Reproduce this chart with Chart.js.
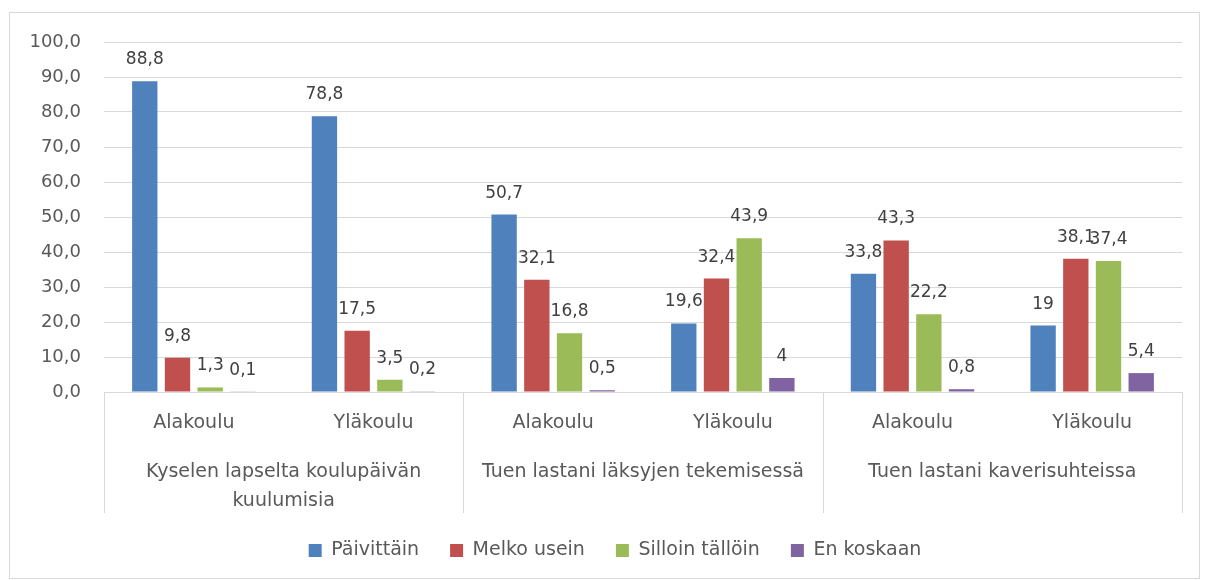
<!DOCTYPE html>
<html>
<head>
<meta charset="utf-8">
<script src="https://cdn.jsdelivr.net/npm/chart.js@4/dist/chart.umd.min.js"></script>
<style>
  html, body { margin: 0; padding: 0; background: #ffffff; }
  #wrap { width: 1209px; height: 580px; position: relative; }
</style>
</head>
<body>
<div id="wrap"><canvas id="c" width="1209" height="580"></canvas></div>
<script>
// ---- data ----
const categories = ["Alakoulu", "Yläkoulu", "Alakoulu", "Yläkoulu", "Alakoulu", "Yläkoulu"];
const groupLabels = [["Kyselen lapselta koulupäivän", "kuulumisia"], ["Tuen lastani läksyjen tekemisessä"], ["Tuen lastani kaverisuhteissa"]];
const seriesNames = ["Päivittäin", "Melko usein", "Silloin tällöin", "En koskaan"];
const paivittain = [88.8, 78.8, 50.7, 19.6, 33.8, 19];
const melkoUsein = [9.8, 17.5, 32.1, 32.4, 43.3, 38.1];
const silloinTalloin = [1.3, 3.5, 16.8, 43.9, 22.2, 37.4];
const enKoskaan = [0.1, 0.2, 0.5, 4, 0.8, 5.4];
const yTicks = [0, 10, 20, 30, 40, 50, 60, 70, 80, 90, 100];

const colors = ["#4f81bd", "#c0504d", "#9bbb59", "#8064a2"];
const FONT = "'DejaVu Sans', sans-serif";
const fmt = v => String(v).replace('.', ',');

const borderPlugin = {
  id: 'outerBorder',
  beforeDraw(chart) {
    const ctx = chart.ctx;
    ctx.save();
    ctx.fillStyle = '#ffffff';
    ctx.fillRect(0, 0, chart.width, chart.height);
    ctx.strokeStyle = '#d9d9d9';
    ctx.lineWidth = 1;
    ctx.strokeRect(9.5, 12.5, 1190, 566);
    ctx.restore();
  }
};

// centre the legend under the whole chart frame as in the reference
const legendShift = {
  id: 'legendShift',
  afterLayout(chart) {
    if (chart.legend) { chart.legend.left += 14; chart.legend.right += 14; }
  }
};

const groupPlugin = {
  id: 'groupAxis',
  afterDraw(chart) {
    const ctx = chart.ctx;
    const xs = chart.scales.x;
    const n = categories.length;
    const cw = (xs.right - xs.left) / n;
    const top = xs.top;
    ctx.save();
    ctx.strokeStyle = '#d9d9d9';
    ctx.lineWidth = 1;
    for (let g = 0; g <= groupLabels.length; g++) {
      const x = Math.round(xs.left + g * 2 * cw) + 0.5;
      ctx.beginPath();
      ctx.moveTo(x, top);
      ctx.lineTo(x, top + 121);
      ctx.stroke();
    }
    ctx.fillStyle = '#595959';
    ctx.font = "19px " + FONT;
    ctx.textAlign = 'center';
    ctx.textBaseline = 'alphabetic';
    groupLabels.forEach((lines, g) => {
      const cx = xs.left + (g * 2 + 1) * cw;
      lines.forEach((t, i) => ctx.fillText(t, cx, top + 85 + i * 29));
    });
    ctx.restore();
  }
};

const labelPlugin = {
  id: 'barLabels',
  afterDatasetsDraw(chart) {
    const ctx = chart.ctx;
    ctx.save();
    ctx.fillStyle = '#404040';
    ctx.font = "17px " + FONT;
    ctx.textAlign = 'center';
    ctx.textBaseline = 'alphabetic';
    chart.data.datasets.forEach((ds, di) => {
      const meta = chart.getDatasetMeta(di);
      meta.data.forEach((bar, i) => {
        ctx.fillText(fmt(ds.data[i]), bar.x, bar.y - 17);
      });
    });
    ctx.restore();
  }
};

const seriesData = [paivittain, melkoUsein, silloinTalloin, enKoskaan];

new Chart(document.getElementById('c'), {
  type: 'bar',
  data: {
    labels: categories,
    datasets: seriesNames.map((name, i) => ({
      label: name,
      data: seriesData[i],
      backgroundColor: colors[i],
      borderWidth: 0,
      categoryPercentage: 0.728,
      barPercentage: 0.775
    }))
  },
  options: {
    responsive: false,
    animation: false,
    devicePixelRatio: 1,
    layout: { padding: { top: 42, left: 20, right: 27, bottom: 10 } },
    plugins: {
      tooltip: { enabled: false },
      legend: {
        position: 'bottom',
        labels: {
          boxWidth: 13,
          boxHeight: 13,
          padding: 31,
          color: '#595959',
          font: { family: FONT, size: 19 }
        }
      }
    },
    scales: {
      x: {
        grid: { display: false, drawTicks: false },
        border: { display: true, color: '#d9d9d9', width: 1 },
        ticks: {
          color: '#595959',
          font: { family: FONT, size: 19 },
          padding: 20,
          maxRotation: 0,
          autoSkip: false
        },
        afterFit(scale) { scale.height = 118; }
      },
      y: {
        min: 0,
        max: 100,
        afterBuildTicks(scale) { scale.ticks = yTicks.map(v => ({ value: v })); },
        grid: { color: '#d9d9d9', lineWidth: 1, drawTicks: false },
        border: { display: false },
        ticks: {
          color: '#595959',
          font: { family: FONT, size: 18 },
          padding: 23,
          callback: v => v.toFixed(1).replace('.', ',')
        },
        afterFit(scale) { scale.width = 84; }
      }
    }
  },
  plugins: [borderPlugin, legendShift, groupPlugin, labelPlugin]
});
</script>
</body>
</html>
